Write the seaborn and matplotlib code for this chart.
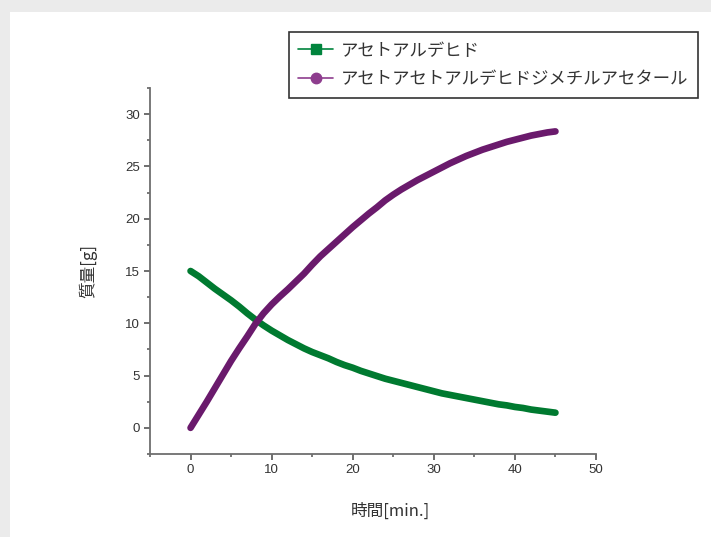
import numpy as np
import pandas as pd
import matplotlib
matplotlib.use("Agg")
import matplotlib.pyplot as plt
from matplotlib.lines import Line2D
from matplotlib.patches import Rectangle
import seaborn as sns

# ---- data ----
time_min = [0, 1, 2, 3, 4, 5, 6, 7, 8, 9, 10, 11, 12, 13, 14, 15, 16, 17, 18, 19,
            20, 21, 22, 23, 24, 25, 26, 27, 28, 29, 30, 31, 32, 33, 34, 35, 36, 37,
            38, 39, 40, 41, 42, 43, 44, 45]
acetaldehyde = [15.0, 14.5, 13.9, 13.3, 12.75, 12.2, 11.6, 10.95, 10.35, 9.8, 9.3, 8.85,
                8.4, 8.0, 7.6, 7.25, 6.95, 6.65, 6.3, 6.0, 5.75, 5.45, 5.2, 4.95, 4.7,
                4.5, 4.3, 4.1, 3.9, 3.7, 3.5, 3.3, 3.15, 3.0, 2.85, 2.7, 2.55, 2.4,
                2.25, 2.15, 2.0, 1.9, 1.75, 1.65, 1.55, 1.45]
acetal = [0.0, 1.25, 2.5, 3.8, 5.1, 6.4, 7.6, 8.75, 9.95, 10.95, 11.8, 12.55, 13.25, 14.0,
          14.75, 15.6, 16.4, 17.1, 17.8, 18.5, 19.2, 19.85, 20.5, 21.1, 21.75, 22.3,
          22.8, 23.25, 23.7, 24.1, 24.5, 24.9, 25.3, 25.65, 26.0, 26.3, 26.6, 26.85,
          27.1, 27.35, 27.55, 27.75, 27.95, 28.1, 28.25, 28.35]
series_names = ["アセトアルデヒド", "アセトアセトアルデヒドジメチルアセタール"]
x_label = "時間[min.]"
y_label = "質量[g]"
x_ticks = [0, 10, 20, 30, 40, 50]
y_ticks = [0, 5, 10, 15, 20, 25, 30]

line_colors = ["#007A30", "#6A1A6C"]
legend_colors = ["#00843D", "#8E3D8E"]

df = pd.DataFrame({
    "time": time_min * 2,
    "mass": acetaldehyde + acetal,
    "series": [series_names[0]] * len(time_min) + [series_names[1]] * len(time_min),
})

sns.set_style("white")
plt.rcParams["font.family"] = ["Liberation Sans", "Noto Sans CJK JP", "DejaVu Sans"]

fig = plt.figure(figsize=(7.11, 5.37), dpi=100)
fig.patch.set_facecolor("#ebebeb")
fig.patches.append(Rectangle((10 / 711, 0), 1, 1 - 12 / 537, transform=fig.transFigure,
                             facecolor="white", edgecolor="none", zorder=-1))

ax = fig.add_axes([150 / 711, 1 - 454 / 537, 446 / 711, 366 / 537])
ax.set_facecolor("none")
sns.lineplot(data=df, x="time", y="mass", hue="series", palette=line_colors,
             linewidth=4.8, ax=ax, legend=False, solid_capstyle="round",
             solid_joinstyle="round")

ax.set_xlim(-5, 50)
ax.set_ylim(-2.5, 32.5)
ax.set_xticks(x_ticks)
ax.set_yticks(y_ticks)
ax.set_xticks([-5, 5, 15, 25, 35, 45], minor=True)
ax.set_yticks([-2.5, 2.5, 7.5, 12.5, 17.5, 22.5, 27.5, 32.5], minor=True)
for s in ["top", "right"]:
    ax.spines[s].set_visible(False)
for s in ["left", "bottom"]:
    ax.spines[s].set_color("#6e6e6e")
    ax.spines[s].set_linewidth(1.3)
ax.tick_params(axis="both", which="major", direction="out", length=4, width=1.2,
               color="#555555", labelsize=9.5, labelcolor="#333333", pad=3,
               left=True, bottom=True)
ax.tick_params(axis="both", which="minor", direction="out", length=2.5, width=1.1,
               color="#555555", left=True, bottom=True)

ax.set_xlabel(x_label, fontsize=12, family=["Noto Sans CJK JP"], color="#333333",
              labelpad=19)
ax.xaxis.label.set_x(0.538)
ax.set_ylabel(y_label, fontsize=12, family=["Noto Sans CJK JP"], color="#333333",
              labelpad=20)

handles = [
    Line2D([0], [0], color=legend_colors[0], lw=1.2, marker="s", markersize=7.5),
    Line2D([0], [0], color=legend_colors[1], lw=1.2, marker="o", markersize=7.5),
]
leg = fig.legend(handles, series_names, loc="upper right",
                 bbox_to_anchor=(698 / 711, 1 - 32 / 537),
                 prop={"family": ["Noto Sans CJK JP"], "size": 12.5},
                 frameon=True, fancybox=False, edgecolor="black", handlelength=2.0,
                 handletextpad=0.45, borderpad=0.55, labelspacing=0.6,
                 borderaxespad=0)
leg.get_frame().set_linewidth(1.2)
for t in leg.get_texts():
    t.set_color("#333333")

fig.savefig("out.png", dpi=100, facecolor=fig.get_facecolor())
